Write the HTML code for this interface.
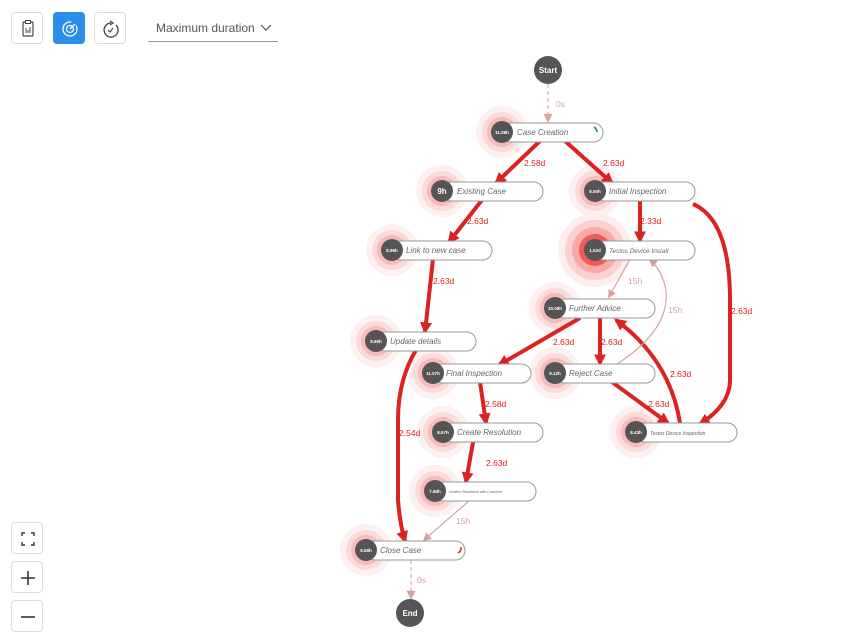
<!DOCTYPE html>
<html><head><meta charset="utf-8"><style>
html,body{margin:0;padding:0;background:#fff;width:866px;height:635px;overflow:hidden;font-family:"Liberation Sans",sans-serif}
.btn{position:absolute;width:32px;height:32px;border:1px solid #ddd;border-radius:4px;background:#fff;box-sizing:border-box}
</style></head><body>
<div class="btn" style="left:11px;top:12px"><svg width="32" height="32"><rect x="11" y="9" width="10" height="14" rx="1" fill="none" stroke="#444" stroke-width="1.2"/><rect x="13.5" y="7.5" width="5" height="3" fill="#fff" stroke="#444" stroke-width="1"/><path d="M14 20v-5M16 20v-3M18 20v-6" stroke="#444" stroke-width="1"/></svg></div>
<div class="btn" style="left:53px;top:12px;background:#2b8de8;border-color:#2b8de8"><svg width="32" height="32"><circle cx="16" cy="16" r="7" fill="none" stroke="#fff" stroke-width="1.3" stroke-dasharray="34 6"/><circle cx="16" cy="16" r="3.5" fill="none" stroke="#fff" stroke-width="1.2"/><path d="M16 16l5-5" stroke="#fff" stroke-width="1.3"/></svg></div>
<div class="btn" style="left:94px;top:12px"><svg width="32" height="32"><path d="M21 12a7 7 0 1 1-5-2" fill="none" stroke="#444" stroke-width="1.3"/><path d="M15 8l3 2-3 2" fill="none" stroke="#444" stroke-width="1.2"/><path d="M13 17l2 2 3-4" fill="none" stroke="#444" stroke-width="1.2"/></svg></div>
<div style="position:absolute;left:148px;top:21px;width:130px;height:21px;border-bottom:1px solid #999;font-size:12px;color:#555;padding-left:8px;box-sizing:border-box;white-space:nowrap">Maximum duration<svg style="position:absolute;right:6px;top:3px" width="12" height="8"><path d="M1 1l5 5 5-5" fill="none" stroke="#555" stroke-width="1.2"/></svg></div>
<div class="btn" style="left:11px;top:522px"><svg width="32" height="32"><path d="M10 13v-3h3M19 10h3v3M22 19v3h-3M13 22h-3v-3" fill="none" stroke="#333" stroke-width="1.4"/></svg></div>
<div class="btn" style="left:11px;top:561px"><svg width="32" height="32"><path d="M16 9v14M9 16h14" stroke="#333" stroke-width="1.6"/></svg></div>
<div class="btn" style="left:11px;top:600px"><svg width="32" height="32"><path d="M9 16h14" stroke="#333" stroke-width="1.6"/></svg></div>

<svg style="position:absolute;left:0;top:0" width="866" height="635" font-family="Liberation Sans, sans-serif">
<defs>
<marker id="ar" viewBox="0 0 10 10" refX="8" refY="5" markerWidth="3" markerHeight="3" orient="auto"><path d="M0 0L10 5L0 10z" fill="#dd2222"/></marker>
<marker id="ap" viewBox="0 0 10 10" refX="8" refY="5" markerWidth="7" markerHeight="7" orient="auto"><path d="M0 0L10 5L0 10z" fill="#d9a0a0"/></marker>
<g id="halo"><circle r="26" fill="#fdf0f0"/><circle r="20" fill="#fbdada"/><circle r="15" fill="#f8baba"/></g>
</defs>
<use href="#halo" x="502" y="132"/><use href="#halo" x="442" y="191"/><use href="#halo" x="595" y="191"/>
<use href="#halo" x="392" y="250"/><use href="#halo" x="555" y="308"/>
<use href="#halo" x="376" y="341"/><use href="#halo" x="433" y="373"/><use href="#halo" x="555" y="373"/>
<use href="#halo" x="443" y="432"/><use href="#halo" x="636" y="432"/><use href="#halo" x="435" y="491"/><use href="#halo" x="366" y="550"/>
<circle cx="595" cy="250" r="37" fill="#fdeeee"/><circle cx="595" cy="250" r="30" fill="#fbd0d0"/><circle cx="595" cy="250" r="23" fill="#f8a8a8"/><circle cx="595" cy="250" r="16" fill="#f05a5a"/>
<!-- edges -->
<g fill="none" stroke="#dd2222" stroke-width="4" marker-end="url(#ar)">
<path d="M540 141L496 183"/>
<path d="M565 141L612 183"/>
<path d="M482 200L449 242"/>
<path d="M433 259L425 332"/>
<path d="M640 200L640 241"/>
<path d="M693 204Q730 220 730 300L730 380Q730 405 700 424"/>
<path d="M580 318L499 365"/>
<path d="M600 318L600 364"/>
<path d="M680 423Q670 360 616 320"/>
<path d="M612 382L668 423"/>
<path d="M480 382L486 423"/>
<path d="M473 442L466 482"/>
<path d="M416 350Q398 380 398 420L398 500Q400 525 405 541"/>
</g>
<g fill="none" stroke="#d9a0a0" stroke-width="1.2" marker-end="url(#ap)">
<path d="M630 259L609 297"/>
<path d="M617 364Q670 330 666 290Q662 270 650 260"/>
<path d="M470 500L424 540"/>
</g>
<g fill="none" stroke="#d9b8b8" stroke-width="1.3" stroke-dasharray="4 3" marker-end="url(#ap)">
<path d="M548 84L548 121"/><path d="M411 560L411 598"/>
</g>
<g font-size="8.5" fill="#dd2222">
<text x="524" y="166">2.58d</text><text x="603" y="166">2.63d</text>
<text x="467" y="224">2.63d</text><text x="433" y="284">2.63d</text>
<text x="640" y="224">2.33d</text><text x="731" y="314">2.63d</text>
<text x="553" y="345">2.63d</text><text x="601" y="345">2.63d</text>
<text x="670" y="377">2.63d</text><text x="648" y="407">2.63d</text>
<text x="485" y="407">2.58d</text><text x="486" y="466">2.63d</text>
<text x="399" y="436">2.54d</text>
</g>
<g font-size="8.5" fill="#d9a0a0">
<text x="556" y="107">0s</text><text x="628" y="284">15h</text><text x="668" y="313">15h</text>
<text x="456" y="524">15h</text><text x="417" y="583">0s</text>
</g>
<g fill="#fff" stroke="#999" stroke-width="1">
<rect x="502" y="123" width="101" height="19" rx="9.5"/>
<rect x="442" y="182" width="101" height="19" rx="9.5"/>
<rect x="595" y="182" width="100" height="19" rx="9.5"/>
<rect x="392" y="241" width="100" height="19" rx="9.5"/>
<rect x="595" y="241" width="100" height="19" rx="9.5"/>
<rect x="555" y="299" width="100" height="19" rx="9.5"/>
<rect x="376" y="332" width="100" height="19" rx="9.5"/>
<rect x="433" y="364" width="98" height="19" rx="9.5"/>
<rect x="555" y="364" width="100" height="19" rx="9.5"/>
<rect x="443" y="423" width="100" height="19" rx="9.5"/>
<rect x="636" y="423" width="101" height="19" rx="9.5"/>
<rect x="435" y="482" width="101" height="19" rx="9.5"/>
<rect x="366" y="541" width="99" height="19" rx="9.5"/>
</g>
<path d="M594 127a6 6 0 0 1 3 5" fill="none" stroke="#1a7a7a" stroke-width="1.5"/>
<path d="M461 547a6 6 0 0 1-3 6" fill="none" stroke="#dd2222" stroke-width="1.5"/>
<g fill="#555">
<circle cx="548" cy="70" r="14"/><circle cx="410" cy="613" r="14"/>
<circle cx="502" cy="132" r="11"/><circle cx="442" cy="191" r="11"/><circle cx="595" cy="191" r="11"/>
<circle cx="392" cy="250" r="11"/><circle cx="595" cy="250" r="11"/><circle cx="555" cy="308" r="11"/>
<circle cx="376" cy="341" r="11"/><circle cx="433" cy="373" r="11"/><circle cx="555" cy="373" r="11"/>
<circle cx="443" cy="432" r="11"/><circle cx="636" cy="432" r="11"/><circle cx="435" cy="491" r="11"/><circle cx="366" cy="550" r="11"/>
</g>
<g fill="#fff" font-size="4.5" font-weight="bold" text-anchor="middle">
<text x="548" y="73" font-size="8">Start</text><text x="410" y="616" font-size="8">End</text>
<text x="502" y="134">11.08h</text><text x="442" y="194" font-size="8">9h</text><text x="595" y="193">8.50h</text>
<text x="392" y="252">8.98h</text><text x="595" y="252">1.02d</text><text x="555" y="310">10.08h</text>
<text x="376" y="343">8.65h</text><text x="433" y="375">11.07h</text><text x="555" y="375">9.12h</text>
<text x="443" y="434">8.57h</text><text x="636" y="434">8.43h</text><text x="435" y="493">7.88h</text><text x="366" y="552">8.58h</text>
</g>
<g fill="#666" font-size="8" font-style="italic">
<text x="517" y="135">Case Creation</text><text x="457" y="194">Existing Case</text><text x="609" y="194">Initial Inspection</text>
<text x="406" y="253">Link to new case</text><text x="609" y="253" font-size="6.5">Testos Device Install</text>
<text x="569" y="311">Further Advice</text><text x="390" y="344">Update details</text>
<text x="446" y="376">Final Inspection</text><text x="569" y="376">Reject Case</text>
<text x="457" y="435">Create Resolution</text><text x="650" y="435" font-size="5">Testos Device Inspection</text>
<text x="449" y="493" font-size="3.5">Confirm Resolution with Customer</text><text x="380" y="553">Close Case</text>
</g>
</svg>
</body></html>
